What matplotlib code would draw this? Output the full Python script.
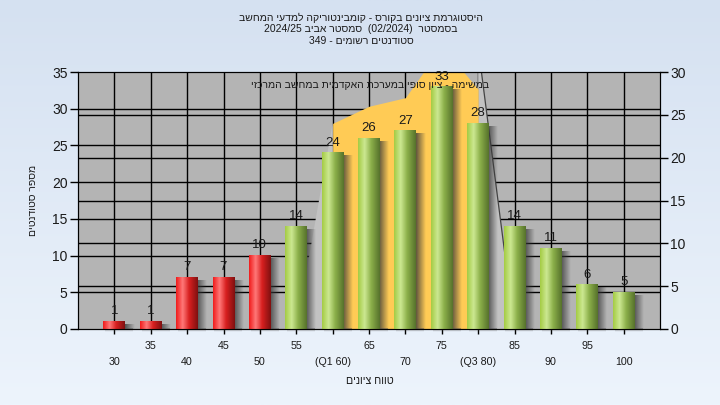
import numpy as np
import matplotlib
matplotlib.use('Agg')
import matplotlib.pyplot as plt
from matplotlib.colors import LinearSegmentedColormap
from matplotlib.transforms import blended_transform_factory

plt.rcParams['font.family'] = ['Liberation Sans', 'DejaVu Sans']

# data
grades = [30, 35, 40, 45, 50, 55, 60, 65, 70, 75, 80, 85, 90, 95, 100]
grade_labels = ['30', '35', '40', '45', '50', '55', '(Q1 60)', '65', '70', '75',
                '(Q3 80)', '85', '90', '95', '100']
counts = [1, 1, 7, 7, 10, 14, 24, 26, 27, 33, 28, 14, 11, 6, 5]
pass_grade = 55
# secondary series (right axis): the Q1..Q3 band
iqr_grades = [60, 65, 70, 75, 80]
iqr_counts = [24, 26, 27, 33, 28]

title_lines = ['היסטוגרמת ציונים בקורס - קומבינטוריקה למדעי המחשב',
               'בסמסטר  (02/2024)  סמסטר אביב 2024/25',
               'סטודנטים רשומים - 349']
note = 'במשימה - ציון סופי במערכת האקדמית במחשב המרכזי'
xlab = 'טווח ציונים'
ylab = 'מספר סטודנטים'


def heb(s):
    # logical -> visual order for simple rtl lines
    out = []
    for w in reversed(s.split(' ')):
        if any('\u0590' <= c <= '\u05ff' for c in w):
            out.append(w[::-1])
        else:
            out.append(w)
    return ' '.join(out)


fig = plt.figure(figsize=(7.2, 4.05), dpi=100)

# background gradient
bg = fig.add_axes([0, 0, 1, 1], zorder=-10)
grad = np.linspace(0, 1, 256).reshape(-1, 1)
bg_cmap = LinearSegmentedColormap.from_list('bg', ['#d5e1f1', '#edf4fc'])
bg.imshow(grad, cmap=bg_cmap, aspect='auto', extent=[0, 1, 0, 1])
bg.axis('off')

ax = fig.add_axes([78 / 720, 76 / 405, 582 / 720, 257 / 405])
ax.set_facecolor('#b4b4b4')
ymax_l, ymax_r = 35, 30
k = ymax_l / ymax_r
pos = np.arange(len(grades))

# grid
for v in range(5, ymax_l, 5):
    ax.axhline(v, color='black', lw=1, zorder=1)
for v in range(5, ymax_r, 5):
    ax.axhline(v * k, color='black', lw=1, zorder=1)
for x in pos:
    ax.axvline(x, color='black', lw=1, zorder=1)

# iqr area
ipos = [grades.index(g) for g in iqr_grades]
ivals = [v * k for v in iqr_counts]
q1, q3 = ipos[0], ipos[-1]
ax.fill([q1 - 1, q1, q1], [0, ivals[0], 0], color='#c2c2c2', lw=0, zorder=2)
ax.fill([q3, q3, q3 + 1], [0, max(ivals), 0], color='#c2c2c2', lw=0, zorder=2)
ax.plot([q3, q3 + 1], [max(ivals), 0], color='#444444', lw=0.9, zorder=2)
ax.fill_between(ipos, ivals, color='#ffcb55', lw=0, zorder=2)

# bars
w = 0.6
red = LinearSegmentedColormap.from_list('r', [(0, '#f01c1c'), (0.3, '#ff7878'),
                                             (0.6, '#d82020'), (1, '#801010')])
green = LinearSegmentedColormap.from_list('g', [(0, '#a4cc44'), (0.3, '#cce892'),
                                               (0.6, '#8cb04a'), (1, '#56722c')])
hgrad = np.linspace(0, 1, 64).reshape(1, -1)
shadow = np.zeros((1, 32, 4))
shadow[..., :3] = 0.22
shadow[..., 3] = np.linspace(0.8, 0, 32)
under = np.zeros((16, 1, 4))
under[..., :3] = 0.35
under[..., 3] = np.linspace(0.5, 0, 16).reshape(-1, 1)
for i, (g, c) in enumerate(zip(grades, counts)):
    cm = red if g < pass_grade else green
    ax.imshow(shadow, extent=[i + w / 2 - 0.02, i + w / 2 + 0.24, 0, max(c - 0.4, 0.3)],
              aspect='auto', zorder=3, interpolation='bilinear')
    im = ax.imshow(under, extent=[i - w / 2 + 0.05, i + w / 2 + 0.2, -0.45, 0],
                   aspect='auto', zorder=3, interpolation='bilinear')
    im.set_clip_on(False)
    ax.imshow(hgrad, cmap=cm, extent=[i - w / 2, i + w / 2, 0, c],
              aspect='auto', zorder=4, interpolation='bilinear')
    ax.annotate(str(c), (i, c), xytext=(0, 3), textcoords='offset points',
                ha='center', va='bottom', fontsize=9.5, color='#1a1a1a',
                zorder=6, annotation_clip=False)

ax.set_xlim(-1, len(grades))
ax.set_ylim(0, ymax_l)
ax.set_yticks(range(0, ymax_l + 1, 5))
ax.set_xticks(pos)
ax.set_xticklabels([])
ax.tick_params(axis='y', direction='out', length=6, width=1, pad=1.5,
               labelsize=10, labelcolor='#1a1a1a')
ax.tick_params(axis='x', direction='out', length=3.5, width=1)
for s in ax.spines.values():
    s.set_color('black')

ax2 = ax.twinx()
ax2.set_ylim(0, ymax_r)
ax2.set_yticks(range(0, ymax_r + 1, 5))
ax2.tick_params(axis='y', direction='out', length=6, width=1, pad=1.5,
                labelsize=10, labelcolor='#1a1a1a')
for s in ax2.spines.values():
    s.set_color('black')

# two-row category labels
tr = blended_transform_factory(ax.transData, fig.transFigure)
for i, lab in enumerate(grade_labels):
    y = 1 - (346 if i % 2 else 362) / 405
    ax.text(i, y, lab, transform=tr, ha='center', va='center', fontsize=7.7,
            color='#1a1a1a', clip_on=False)

ax.text(0.502, 0.95, heb(note), transform=ax.transAxes, ha='center', va='center',
        fontsize=7.5, color='#1a1a1a', zorder=7)

fig.text(370 / 720, 1 - 381 / 405, heb(xlab), ha='center', va='center',
         fontsize=7.7, color='#1a1a1a')
fig.text(33 / 720, 1 - 200 / 405, heb(ylab), ha='center', va='center',
         rotation=90, fontsize=7.5, color='#1a1a1a')
for yy, line in zip([18, 29.5, 41], title_lines):
    fig.text(361 / 720, 1 - yy / 405, heb(line), ha='center', va='center',
             fontsize=7.5, color='#1a1a1a')

fig.savefig('out.png', dpi=100)
